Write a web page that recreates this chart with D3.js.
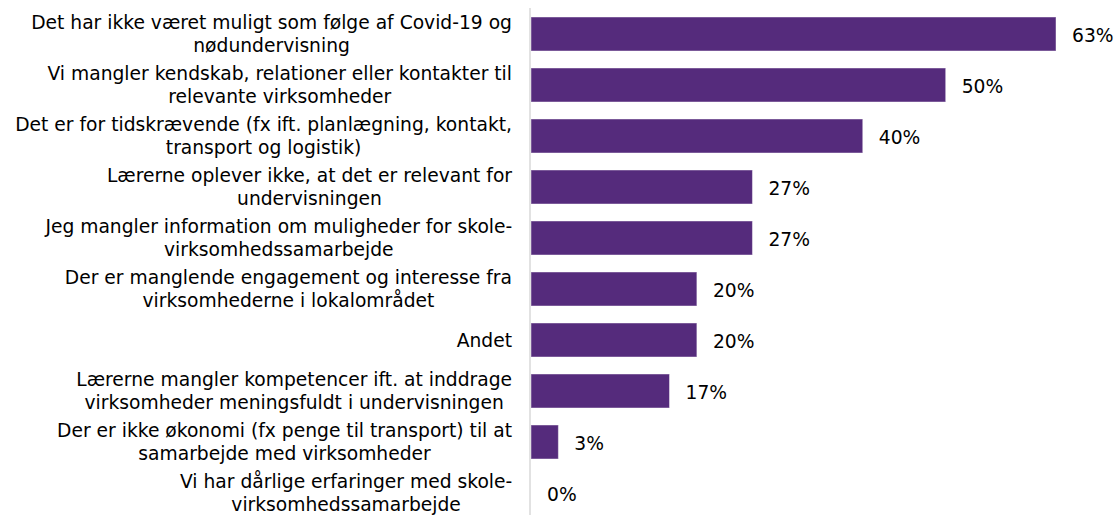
<!DOCTYPE html>
<html>
<head>
<meta charset="utf-8">
<script src="https://cdn.jsdelivr.net/npm/d3@7"></script>
<style>
  html, body { margin: 0; padding: 0; background: #fff; }
  svg { display: block; }
  text { font-family: "DejaVu Sans", Verdana, sans-serif; fill: #000; }
</style>
</head>
<body>
<svg id="chart" width="1118" height="515"></svg>
<script>
// Reasons given (each label split into its display lines with "\n")
const categories = [
  "Det har ikke været muligt som følge af Covid-19 og\nnødundervisning",
  "Vi mangler kendskab, relationer eller kontakter til\nrelevante virksomheder",
  "Det er for tidskrævende (fx ift. planlægning, kontakt,\ntransport og logistik)",
  "Lærerne oplever ikke, at det er relevant for\nundervisningen",
  "Jeg mangler information om muligheder for skole-\nvirksomhedssamarbejde",
  "Der er manglende engagement og interesse fra\nvirksomhederne i lokalområdet",
  "Andet",
  "Lærerne mangler kompetencer ift. at inddrage\nvirksomheder meningsfuldt i undervisningen",
  "Der er ikke økonomi (fx penge til transport) til at\nsamarbejde med virksomheder",
  "Vi har dårlige erfaringer med skole-\nvirksomhedssamarbejde"
];

// Share of respondents (%)
const values = [63.3, 50, 40, 26.7, 26.7, 20, 20, 16.7, 3.3, 0];

const svg = d3.select("#chart");
const barColor = "#552b7c";

const x = d3.scaleLinear().domain([0, 63.3]).range([531, 1056]);
const y = d3.scaleBand()
  .domain(categories)
  .range([8.5, 518.5])
  .paddingInner(1 / 3)
  .paddingOuter(1 / 6);

const rows = categories.map((c, i) => ({ cat: c, value: values[i] }));

// Bars
svg.append("g")
  .selectAll("rect")
  .data(rows)
  .join("rect")
  .attr("x", x(0))
  .attr("y", d => y(d.cat))
  .attr("width", d => x(d.value) - x(0))
  .attr("height", y.bandwidth())
  .attr("fill", barColor)
  .attr("stroke", "rgba(255,255,255,0.45)")
  .attr("stroke-width", 1);

// Category axis line
svg.append("line")
  .attr("x1", 530).attr("x2", 530)
  .attr("y1", 8).attr("y2", 515)
  .attr("stroke", "#d9d9d9")
  .attr("stroke-width", 1.5);

// Category labels: each block right-aligned to the axis, its lines centred
const fontSize = 18.7;
const lineH = 23;
const labelRight = 512;

const labels = svg.append("g")
  .selectAll("text")
  .data(rows)
  .join("text")
  .attr("text-anchor", "middle")
  .attr("font-size", fontSize)
  .attr("y", d => y(d.cat) + y.bandwidth() / 2);

labels.each(function(d) {
  const lines = d.cat.split("\n");
  const t = d3.select(this);
  const offset = -(lines.length - 1) / 2 * lineH;
  const spans = lines.map((ln, i) =>
    t.append("tspan")
      .attr("dy", i === 0 ? offset : lineH)
      .attr("dominant-baseline", "central")
      .text(ln)
  );
  const maxW = d3.max(spans, s => s.node().getComputedTextLength());
  spans.forEach(s => s.attr("x", labelRight - maxW / 2));
});

// Value labels
const fmt = v => d3.format(".0f")(v) + "%";
svg.append("g")
  .selectAll("text")
  .data(rows)
  .join("text")
  .attr("font-size", fontSize)
  .attr("x", d => x(d.value) + 16)
  .attr("y", d => y(d.cat) + y.bandwidth() / 2 + 1)
  .attr("dominant-baseline", "central")
  .text(d => fmt(d.value));
</script>
</body>
</html>
